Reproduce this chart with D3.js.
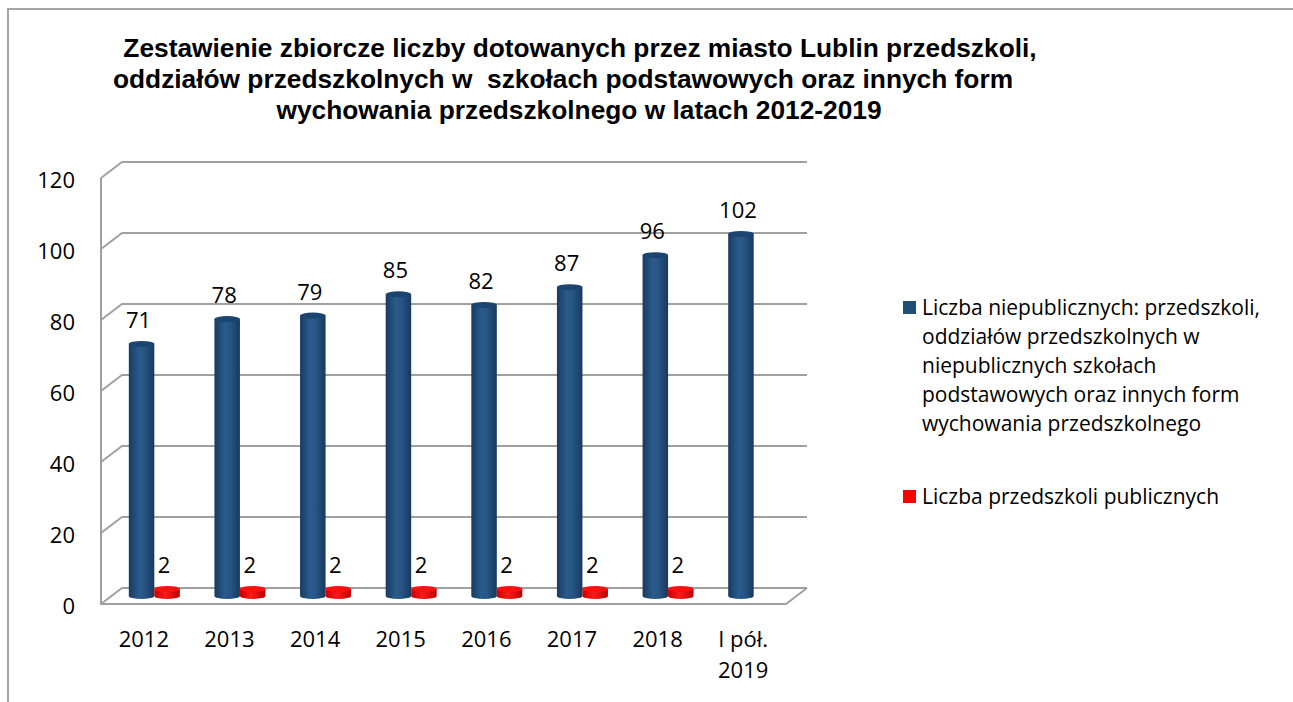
<!DOCTYPE html>
<html lang="pl">
<head>
<meta charset="utf-8">
<script src="https://cdn.jsdelivr.net/npm/d3@7"></script>
<style>
  html, body { margin: 0; padding: 0; background: #fff; }
  svg { display: block; }
</style>
</head>
<body>
<svg id="chart" width="1293" height="702"></svg>
<script>
// Chart data
const titleLines = [
  "Zestawienie zbiorcze liczby dotowanych przez miasto Lublin przedszkoli,",
  "oddziałów przedszkolnych w\u00a0 szkołach podstawowych oraz innych form",
  "wychowania przedszkolnego w latach 2012-2019"
];
const categories = ["2012", "2013", "2014", "2015", "2016", "2017", "2018", "I pół. 2019"];
const seriesNames = [
  "Liczba niepublicznych: przedszkoli, oddziałów przedszkolnych w niepublicznych szkołach podstawowych oraz innych form wychowania przedszkolnego",
  "Liczba przedszkoli publicznych"
];
const nonPublicValues = [71, 78, 79, 85, 82, 87, 96, 102];
const publicValues = [2, 2, 2, 2, 2, 2, 2, null];
const yTicks = [0, 20, 40, 60, 80, 100, 120];
const legendLines = [
  ["Liczba niepublicznych: przedszkoli,", "oddziałów przedszkolnych w", "niepublicznych szkołach",
   "podstawowych oraz innych form", "wychowania przedszkolnego"],
  ["Liczba przedszkoli publicznych"]
];

const svg = d3.select("#chart");
const W = 1293, H = 702;
const bodyFont = "'Open Sans', Lato, sans-serif";
const gridColor = "#a0a0a0";

// Outer frame (left and top edges)
svg.append("path")
  .attr("d", `M8,${H} L8,9 L${W},9`)
  .attr("fill", "none").attr("stroke", "#a6a6a6").attr("stroke-width", 2);

// Title
const titleX = [580, 563, 579];
const title = svg.append("text")
  .attr("font-family", "'Liberation Sans', Arial, sans-serif")
  .attr("font-weight", "bold").attr("font-size", 26.3).attr("fill", "#000")
  .attr("text-anchor", "middle");
titleLines.forEach((t, i) => {
  title.append("tspan").attr("x", titleX[i]).attr("y", 57 + i * 31).text(t);
});

// 3D plot geometry: front plane and back-wall offset
const plot = { left: 101, right: 786, bottom: 604, top: 178 };
const depth = { dx: 21, dy: -16 };

const x0 = d3.scaleBand().domain(categories).range([plot.left, plot.right]).paddingInner(0);
const y = d3.scaleLinear().domain([0, 120]).range([plot.bottom, plot.top]);
const barW = 25.5;
const x1 = d3.scaleBand().domain(seriesNames)
  .range([x0.bandwidth() / 2 - barW, x0.bandwidth() / 2 + barW]);

const g = svg.append("g");

// Back-wall gridlines with their left diagonals
yTicks.forEach(v => {
  const fy = y(v);
  g.append("path")
    .attr("d", `M${plot.left},${fy} L${plot.left + depth.dx},${fy + depth.dy} L${plot.right + depth.dx},${fy + depth.dy}`)
    .attr("fill", "none").attr("stroke", gridColor).attr("stroke-width", 2);
});
// Front vertical axis and floor front edge
g.append("path")
  .attr("d", `M${plot.left},${y(120)} L${plot.left},${y(0)} L${plot.right},${y(0)} L${plot.right + depth.dx},${y(0) + depth.dy}`)
  .attr("fill", "none").attr("stroke", gridColor).attr("stroke-width", 2);

// Gradients for cylinders
const defs = svg.append("defs");
function gradient(id, stops) {
  const lg = defs.append("linearGradient").attr("id", id)
    .attr("x1", "0%").attr("x2", "100%").attr("y1", "0%").attr("y2", "0%");
  stops.forEach(([o, c]) => lg.append("stop").attr("offset", o).attr("stop-color", c));
}
gradient("gBlue", [["0%", "#183b60"], ["40%", "#2a5b8c"], ["60%", "#275686"], ["100%", "#173a5e"]]);
gradient("gRed", [["0%", "#c80000"], ["45%", "#ff1a1a"], ["100%", "#b80000"]]);

const series = [
  { name: seriesNames[0], values: nonPublicValues, fill: "url(#gBlue)", top: "#1c4470", color: "#1f4e79" },
  { name: seriesNames[1], values: publicValues, fill: "url(#gRed)", top: "#ff1010", color: "#ff0000" }
];

const ry = 3;
const midDx = depth.dx / 2, midDy = depth.dy / 2;

series.forEach(s => {
  const items = categories.map((c, i) => ({ c, v: s.values[i] })).filter(d => d.v != null);
  const cyl = g.append("g").selectAll("g").data(items).join("g");
  cyl.each(function (d) {
    const sel = d3.select(this);
    const cx = x0(d.c) + x1(s.name) + barW / 2 + midDx;
    const yb = y(0) + midDy;
    const yt = y(d.v) + midDy;
    const r = barW / 2;
    sel.append("path")
      .attr("d", `M${cx - r},${yt} L${cx - r},${yb} A${r},${ry} 0 0 0 ${cx + r},${yb} L${cx + r},${yt} Z`)
      .attr("fill", s.fill);
    sel.append("ellipse")
      .attr("cx", cx).attr("cy", yt).attr("rx", r).attr("ry", ry)
      .attr("fill", s.top);
    sel.append("text")
      .attr("x", cx - 3).attr("y", yt - 16)
      .attr("text-anchor", "middle")
      .attr("font-family", bodyFont).attr("font-size", 22).attr("fill", "#000")
      .text(d.v);
  });
});

// Value axis labels
const yAxis = d3.axisLeft(y).tickValues(yTicks).tickSize(0).tickPadding(0);
const ya = svg.append("g").attr("transform", "translate(75,0)").call(yAxis);
ya.select(".domain").remove();
ya.selectAll("text")
  .attr("font-family", bodyFont).attr("font-size", 22).attr("fill", "#000")
  .attr("dy", 9);

// Category axis labels (wrapped onto two lines where needed)
const xAxis = d3.axisBottom(x0).tickSize(0).tickPadding(0);
const xa = svg.append("g").attr("transform", `translate(0,${plot.bottom})`).call(xAxis);
xa.select(".domain").remove();
xa.selectAll("text")
  .attr("font-family", bodyFont).attr("font-size", 22).attr("fill", "#000")
  .attr("dy", null).attr("y", 43)
  .each(function (d) {
    const t = d3.select(this);
    const idx = d.lastIndexOf(" ");
    if (idx > 0) {
      t.text(null);
      t.append("tspan").attr("x", 0).attr("y", 43).text(d.slice(0, idx));
      t.append("tspan").attr("x", 0).attr("y", 74).text(d.slice(idx + 1));
    }
  });

// Legend
const legendY = [301, 490];
series.forEach((s, i) => {
  svg.append("rect")
    .attr("x", 903).attr("y", legendY[i]).attr("width", 13).attr("height", 13)
    .attr("fill", s.color);
  const t = svg.append("text")
    .attr("font-family", bodyFont).attr("font-size", 21).attr("fill", "#000");
  legendLines[i].forEach((line, j) => {
    t.append("tspan").attr("x", 922).attr("y", legendY[i] + 14 + j * 29).text(line);
  });
});
</script>
</body>
</html>
